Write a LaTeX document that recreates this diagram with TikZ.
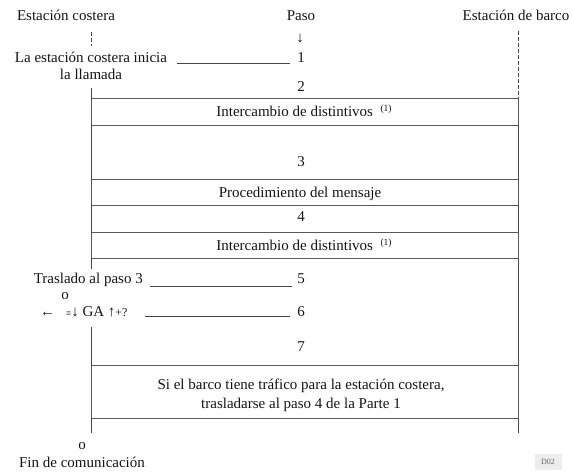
\documentclass[tikz,border=0pt]{standalone}
\usepackage{fontspec}
\setmainfont{Liberation Serif}
\begin{document}
\begin{tikzpicture}[x=1pt,y=-1pt,
  txt/.style={inner sep=0pt,font=\fontsize{15}{17}\selectfont,text=black!92},
  ln/.style={draw=black!72,line width=0.8pt},
  dln/.style={draw=black!72,line width=0.7pt,dash pattern=on 4pt off 2pt},
  stepbox/.style={draw=black!65,line width=1pt,minimum width=427pt,anchor=north west,inner sep=0pt}]
\useasboundingbox (0,0) rectangle (573,472);
% headings
\node[txt,anchor=base] (hc) at (66,20) {Estación costera};
\node[txt,anchor=base] (hp) at (301,20) {Paso};
\node[txt,anchor=base] (hb) at (516,20) {Estación de barco};
\node[txt,anchor=base] (arr) at (300,42) {↓};
% lifeline coordinates
\coordinate (lt0) at (91,32); \coordinate (lt1) at (91,46);
\coordinate (la0) at (91,88); \coordinate (la1) at (91,269);
\coordinate (lb0) at (91,327); \coordinate (lb1) at (91,433);
\coordinate (rt0) at (518,31); \coordinate (rt1) at (518,97);
\coordinate (rb1) at (518,433);
\draw[dln] (lt0) -- (lt1);
\draw[dln] (rt0) -- (rt1);
\draw[ln] (la0) -- (la1);
\draw[ln] (lb0) -- (lb1);
\draw[ln] (rt1) -- (rb1);
% step 1
\node[txt,align=center,anchor=base] (init) at (91,79) {La estación costera inicia\\[-0.5pt]la llamada};
\node[txt,anchor=base] (n1) at (301,62) {1};
\coordinate (s1a) at (177,63); \coordinate (s1b) at (290,63);
\draw[ln] (s1a) -- (s1b);
% step 2
\node[txt,anchor=base] (n2) at (301,91) {2};
\node[stepbox,minimum height=27pt] (b1) at (91,98) {};
\node[txt,anchor=base] (t1) at (304,116) {Intercambio de distintivos \ \raisebox{5pt}{\fontsize{9.5}{10}\selectfont (1)}};
% step 3
\node[txt,anchor=base] (n3) at (301,166) {3};
\node[stepbox,minimum height=26pt] (b2) at (91,179) {};
\node[txt,anchor=base] (t2) at (300,197) {Procedimiento del mensaje};
% step 4
\node[txt,anchor=base] (n4) at (301,221) {4};
\node[stepbox,minimum height=26pt] (b3) at (91,232) {};
\node[txt,anchor=base] (t3) at (304,250) {Intercambio de distintivos \ \raisebox{5pt}{\fontsize{9.5}{10}\selectfont (1)}};
% step 5
\node[txt,anchor=base east] (tr) at (143,283) {Traslado al paso 3};
\node[txt,anchor=base] (n5) at (301,283) {5};
\coordinate (s5a) at (150,286); \coordinate (s5b) at (292,286);
\draw[ln] (s5a) -- (s5b);
\node[txt,anchor=base] (o1) at (65,299) {o};
% step 6
\node[txt,anchor=base west] (sym) at (40,316) {←\hspace{11pt}{\fontsize{9}{10}\selectfont ≡}↓ GA ↑{\fontsize{12}{12}\selectfont +?}};
\node[txt,anchor=base] (n6) at (301,316) {6};
\coordinate (s6a) at (145,316); \coordinate (s6b) at (290,316);
\draw[ln] (s6a) -- (s6b);
% step 7
\node[txt,anchor=base] (n7) at (301,351) {7};
\node[stepbox,minimum height=53pt] (b4) at (91,365) {};
\node[txt,align=center,anchor=base] (t4) at (301,408) {Si el barco tiene tráfico para la estación costera,\\[2pt]trasladarse al paso 4 de la Parte 1};
% end
\node[txt,anchor=base] (o2) at (82,449) {o};
\node[txt,anchor=base] (fin) at (82,467) {Fin de comunicación};
\node[fill=black!7,text=black!60,font=\fontsize{8}{8}\selectfont,inner sep=2.5pt,minimum width=27pt,minimum height=16pt] (d02) at (548,462) {D02};
\end{tikzpicture}
\end{document}
